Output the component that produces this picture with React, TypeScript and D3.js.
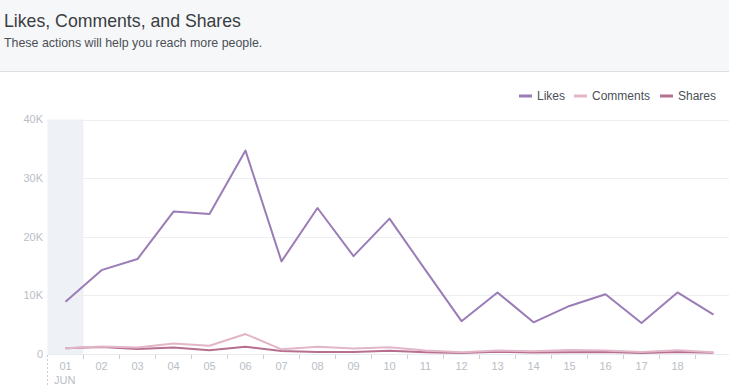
import React from "react";
import * as d3 from "d3";

const days = ["01", "02", "03", "04", "05", "06", "07", "08", "09", "10", "11", "12", "13", "14", "15", "16", "17", "18", "19"];
const tickDays = days.slice(0, 18);
const likes = [8900, 14300, 16200, 24300, 23900, 34700, 15800, 24900, 16700, 23100, 14300, 5600, 10500, 5400, 8200, 10200, 5300, 10500, 6700];
const comments = [1000, 1300, 1100, 1800, 1400, 3400, 800, 1250, 950, 1150, 600, 300, 600, 450, 700, 600, 350, 650, 300];
const shares = [1000, 1200, 850, 1100, 650, 1250, 500, 350, 350, 550, 300, 150, 400, 250, 300, 350, 150, 350, 200];
const yTicks = [0, 10000, 20000, 30000, 40000];

const series = [
  { name: "Likes", values: likes, color: "#9a7cb7" },
  { name: "Comments", values: comments, color: "#e2b6c8" },
  { name: "Shares", values: shares, color: "#b76f8f" },
];

const W = 729;
const H = 392;

export default function App() {
  const x = d3.scaleBand<string>().domain(days).range([47.5, 47.5 + 36 * days.length]).padding(0);
  const cx = (d: string) => (x(d) as number) + x.bandwidth() / 2;
  const y = d3.scaleLinear().domain([0, 40000]).range([354, 119.5]);
  const fmt = (v: number) => (v === 0 ? "0" : d3.format(".0f")(v / 1000) + "K");
  const line = (vals: number[]) =>
    d3.line<number>().x((_, i) => cx(days[i])).y((v) => y(v))(vals) as string;

  const legendPos = [519, 574, 660];
  const font = "'Liberation Sans', Arial, sans-serif";

  return (
    <svg width={W} height={H} style={{ position: "absolute", left: 0, top: 0, fontFamily: font }}>
      <rect x={0} y={0} width={W} height={71} fill="#f6f7f9" />
      <line x1={0} x2={W} y1={71.5} y2={71.5} stroke="#dddfe2" />
      <text x={4} y={27} fontSize={17.7} fill="#3a3d42">Likes, Comments, and Shares</text>
      <text x={4} y={47} fontSize={12.4} fill="#4b4f56">These actions will help you reach more people.</text>

      {/* first-day highlight */}
      <rect x={x(days[0])} y={y(40000)} width={x.bandwidth()} height={y(0) - y(40000)} fill="#eef1f6" />

      {yTicks.map((t) => (
        <g key={t}>
          {t > 0 && <line x1={47.5} x2={W} y1={Math.round(y(t)) + 0.5} y2={Math.round(y(t)) + 0.5} stroke="#eeeff1" />}
          <text x={43} y={y(t)} dy="0.35em" textAnchor="end" fontSize={11} fill="#b9bec6">{fmt(t)}</text>
        </g>
      ))}
      <line x1={47.5} x2={W} y1={354.5} y2={354.5} stroke="#e9ebee" />

      {/* x axis */}
      {days.slice(1).map((d) => (
        <line key={d} x1={x(d)} x2={x(d)} y1={355} y2={359} stroke="#ccd0d5" />
      ))}
      <line x1={47.5} x2={47.5} y1={355} y2={387} stroke="#ccd0d5" strokeDasharray="2,2" />
      {tickDays.map((d) => (
        <text key={d} x={cx(d)} y={366} dy="0.35em" textAnchor="middle" fontSize={11} fill="#b9bec6">{d}</text>
      ))}
      <text x={54} y={380} dy="0.35em" fontSize={11} fill="#b9bec6">JUN</text>

      {series.map((s) => (
        <path key={s.name} d={line(s.values)} fill="none" stroke={s.color} strokeWidth={2} strokeLinejoin="round" />
      )).reverse()}

      {series.map((s, i) => (
        <g key={s.name} transform={`translate(${legendPos[i]},96)`}>
          <line x1={0} x2={13} y1={0} y2={0} stroke={s.color} strokeWidth={3} />
          <text x={18} y={0} dy="0.35em" fontSize={12} fill="#4b4f56">{s.name}</text>
        </g>
      ))}
    </svg>
  );
}
